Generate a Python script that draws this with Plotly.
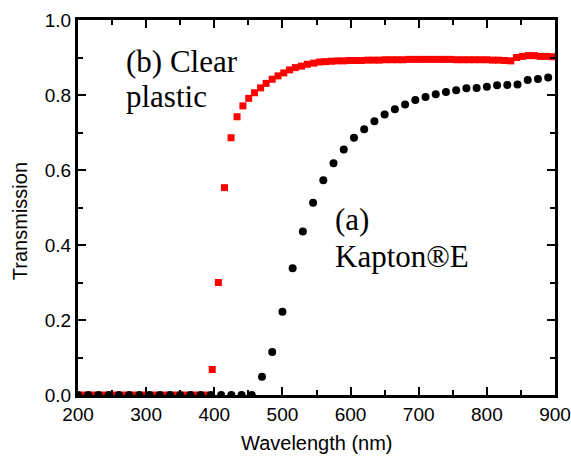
import plotly.graph_objects as go

# Kapton(R)E (black circles)
kapton_wl = [200, 215, 230, 245, 260, 275, 290, 305, 320, 335, 350, 365, 380, 395, 410, 425, 440, 455,
             470, 485, 500, 515, 530, 545, 560, 575, 590, 605, 620, 635, 650, 665, 680, 695, 710, 725,
             740, 755, 770, 785, 800, 815, 830, 845, 860, 875, 890]
kapton_t = [0.0] * 18 + [0.049, 0.115, 0.222, 0.338, 0.436, 0.513, 0.573, 0.618, 0.655, 0.686, 0.709,
                         0.730, 0.748, 0.762, 0.775, 0.787, 0.795, 0.802, 0.808, 0.813, 0.818, 0.819,
                         0.822, 0.826, 0.827, 0.828, 0.840, 0.843, 0.847]

# Clear plastic (red squares)
plastic_wl = [207, 222, 237, 252, 267, 282, 297, 312, 327, 342, 357, 372, 387,
              397, 406, 415, 424.6, 433.4, 442, 450.5, 459, 468, 476, 485, 493.5, 502, 510.5, 519,
              528, 536.5, 546, 554.6, 563.4, 572, 581, 590, 598.5, 607, 616, 625, 633.5, 642, 651,
              660, 668.5, 677, 686, 695, 703.5, 712, 721, 730, 738.5, 747, 756, 765, 773.5, 782,
              791, 800, 808.5, 817, 826, 835, 843.5, 852, 861, 870, 878.5, 887, 896]
plastic_t = [0.0] * 13 + [0.068, 0.300, 0.553, 0.686, 0.742, 0.771, 0.791, 0.806, 0.819, 0.831, 0.842,
                          0.851, 0.859, 0.867, 0.873, 0.877, 0.882, 0.885, 0.888, 0.889, 0.890, 0.891,
                          0.891, 0.892, 0.892, 0.892, 0.893, 0.893, 0.893, 0.894, 0.894, 0.894, 0.894,
                          0.895, 0.895, 0.895, 0.895, 0.895, 0.895, 0.895, 0.895, 0.894, 0.894, 0.894,
                          0.894, 0.894, 0.894, 0.893, 0.893, 0.892, 0.891, 0.900, 0.903, 0.905, 0.905,
                          0.903, 0.903, 0.902]

x_ticks = [200, 300, 400, 500, 600, 700, 800, 900]
y_ticks = [0.0, 0.2, 0.4, 0.6, 0.8, 1.0]
y_tick_text = ["0.0", "0.2", "0.4", "0.6", "0.8", "1.0"]

fig = go.Figure()
fig.add_trace(go.Scatter(x=plastic_wl, y=plastic_t, mode="markers",
                         marker=dict(symbol="square", size=7, color="#ff0000", line=dict(width=0)),
                         name="Clear plastic"))
fig.add_trace(go.Scatter(x=kapton_wl, y=kapton_t, mode="markers",
                         marker=dict(symbol="circle", size=8, color="#000000", line=dict(width=0)),
                         name="Kapton®E"))

axis_font = dict(family="Liberation Sans, Arial, sans-serif", size=19, color="#000")
title_font = dict(family="Liberation Sans, Arial, sans-serif", size=20, color="#000")
common = dict(showgrid=False, zeroline=False, showline=True, linewidth=3, linecolor="#000",
              mirror="ticks", ticks="inside", ticklen=8, tickwidth=2, tickcolor="#000",
              tickfont=axis_font, automargin=False)

fig.update_xaxes(range=[200, 900], tickvals=x_ticks, ticktext=[str(v) for v in x_ticks],
                 minor=dict(dtick=50, tick0=200, ticks="inside", ticklen=5, tickwidth=2, tickcolor="#000"),
                 **common)
fig.update_yaxes(range=[0, 1], tickvals=y_ticks, ticktext=y_tick_text,
                 minor=dict(dtick=0.1, tick0=0, ticks="inside", ticklen=5, tickwidth=2, tickcolor="#000"),
                 **common)

serif = dict(family="Liberation Serif, Times New Roman, serif", size=31, color="#000")
for txt, px, py in [("(b) Clear", 0.0974, 0.89), ("plastic", 0.0974, 0.795),
                    ("(a)", 0.5336, 0.468), ("Kapton®E", 0.5336, 0.37)]:
    fig.add_annotation(text=txt, x=px, y=py, xref="paper", yref="paper",
                       xanchor="left", yanchor="middle", showarrow=False, font=serif)

fig.add_annotation(text="Transmission", x=-0.12, y=0.463, xref="paper", yref="paper",
                   textangle=-90, showarrow=False, xanchor="center", yanchor="middle",
                   font=title_font)
fig.add_annotation(text="Wavelength (nm)", x=0.5, y=-0.162, xref="paper", yref="paper",
                   showarrow=False, xanchor="center", yanchor="bottom", font=title_font)

fig.update_layout(width=571, height=456, margin=dict(l=78, r=16, t=20, b=61),
                  plot_bgcolor="#fff", paper_bgcolor="#fff", showlegend=False)

fig.write_html("out.html")
